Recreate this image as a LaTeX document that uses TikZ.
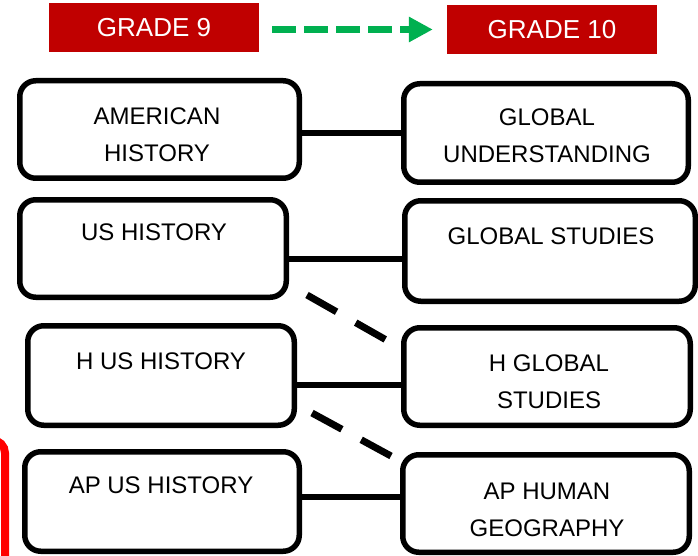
\documentclass[tikz,border=0pt]{standalone}
\usepackage{fontspec}
\setmainfont{Liberation Sans}
\usetikzlibrary{arrows.meta}
\definecolor{hdrred}{HTML}{C00000}
\definecolor{arrgreen}{HTML}{00B050}
\tikzset{
  rbox/.style={draw=black, line width=5.5pt, rounded corners=16pt, fill=white, inner sep=0pt},
  btxt/.style={align=center, inner sep=0pt, font=\fontsize{24}{37}\selectfont},
  hdr/.style={fill=hdrred, text=white, minimum width=210pt, minimum height=49pt, inner sep=0pt, font=\fontsize{26}{30}\selectfont},
  conn/.style={line width=6pt},
  dconn/.style={line width=7pt, dash pattern=on 34pt off 22pt},
}
\begin{document}
\begin{tikzpicture}[x=1pt,y=-1pt]
\useasboundingbox (0,0) rectangle (698,556);
\clip (0,0) rectangle (698,556);
% red edge at left
\draw[red, line width=8pt, rounded corners=13pt] (-40,440) -- (5,440) -- (5,580);
% header
\node[hdr] (g9) at (154,28) {GRADE 9};
\node[hdr] (g10) at (552,29.5) {GRADE 10};
\draw[arrgreen, line width=7pt, dash pattern=on 24pt off 8pt, -{Triangle[length=24pt,width=24pt]}, shorten <=13pt, shorten >=14pt]
  (g9.east |- 0,29.5) -- (g10.west |- 0,29.5);
% connectors first (behind boxes)
\coordinate (d1s) at (307,295); \coordinate (d1e) at (388,341);
\coordinate (d2s) at (312,413); \coordinate (d2e) at (391,456);
% left boxes
\node[rbox, minimum width=279.5pt, minimum height=97.5pt] (L1) at (159.5,129.5) {};
\node[rbox, minimum width=266.5pt, minimum height=97.5pt] (L2) at (153,248.5) {};
\node[rbox, minimum width=266.5pt, minimum height=99.5pt] (L3) at (161,375.5) {};
\node[rbox, minimum width=274.5pt, minimum height=99.5pt] (L4) at (162,501.5) {};
% right boxes
\node[rbox, minimum width=284.5pt, minimum height=98.5pt] (R1) at (546,133) {};
\node[rbox, minimum width=290.5pt, minimum height=100.5pt] (R2) at (550,251) {};
\node[rbox, minimum width=286.5pt, minimum height=97.5pt] (R3) at (547,376.5) {};
\node[rbox, minimum width=286.5pt, minimum height=97.5pt] (R4) at (546,503.5) {};
% texts
\node[btxt] (t1) at (157,134.5) {AMERICAN\\HISTORY};
\node[btxt] (t2) at (154,232) {US HISTORY};
\node[btxt] (t3) at (161,361) {H US HISTORY};
\node[btxt] (t4) at (161,485) {AP US HISTORY};
\node[btxt] (u1) at (547,136) {GLOBAL\\UNDERSTANDING};
\node[btxt] (u2) at (551,236) {GLOBAL STUDIES};
\node[btxt] (u3) at (549,381.5) {H GLOBAL\\STUDIES};
\node[btxt] (u4) at (547,509.5) {AP HUMAN\\GEOGRAPHY};
% solid connectors
\draw[conn] (L1.east |- 0,133) -- (R1.west |- 0,133);
\draw[conn] (L2.east |- 0,259) -- (R2.west |- 0,259);
\draw[conn] (L3.east |- 0,385) -- (R3.west |- 0,385);
\draw[conn] (L4.east |- 0,497) -- (R4.west |- 0,497);
% dashed connectors
\draw[dconn] (d1s) -- (d1e);
\draw[dconn] (d2s) -- (d2e);
\end{tikzpicture}
\end{document}
